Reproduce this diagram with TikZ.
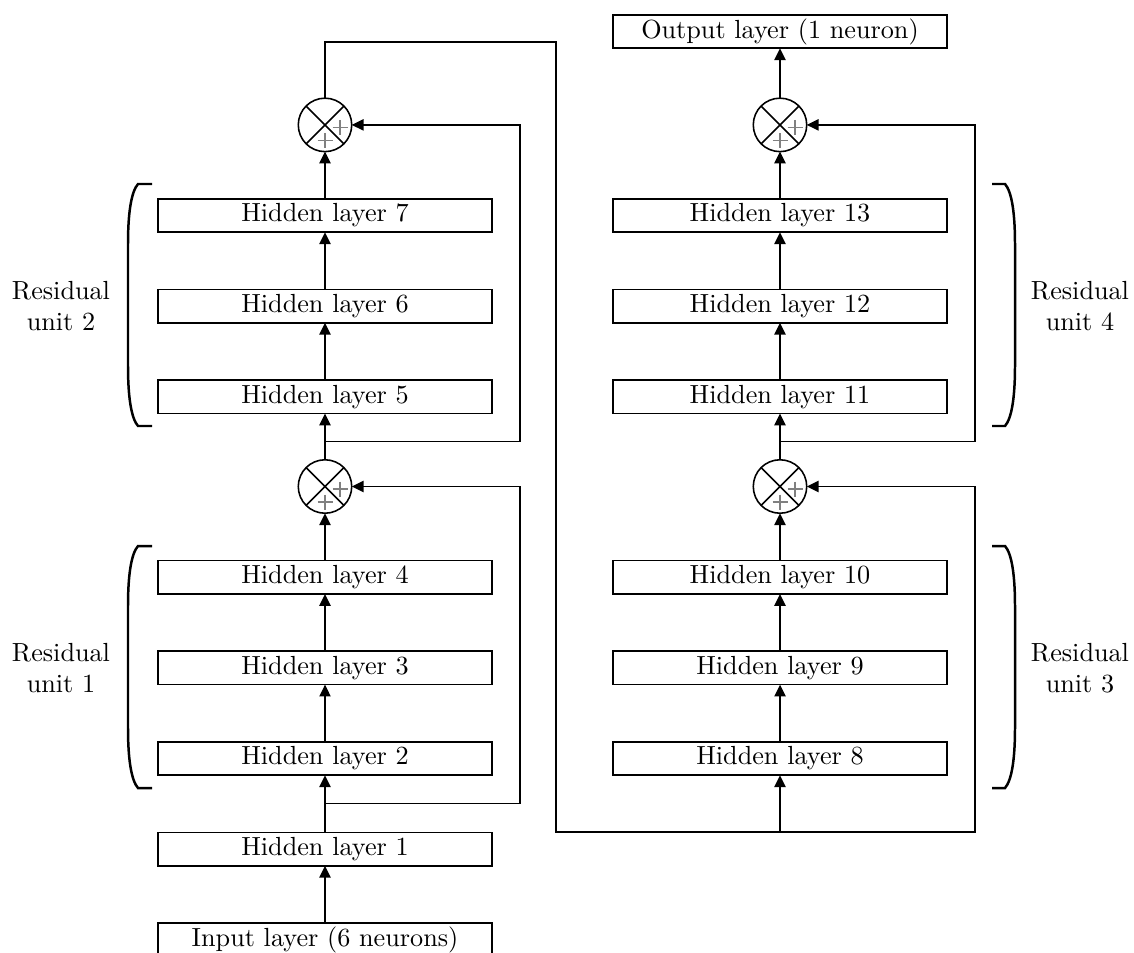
\documentclass[tikz,border=0pt]{standalone}
\usetikzlibrary{arrows.meta,calc}
\begin{document}
\begin{tikzpicture}[x=0.3817pt,y=-0.3817pt,line width=0.6pt,
  box/.style={draw,rectangle,minimum width=127.5pt,minimum height=12.8pt,inner sep=0pt,outer sep=0pt,line width=0.6pt},
  sumnode/.style={draw,circle,minimum size=20.4pt,inner sep=0pt,outer sep=0pt,line width=0.6pt},
  arr/.style={-{Triangle[length=4.5pt,width=4.3pt]}},
  brk/.style={line width=0.95pt},
  plussign/.style={draw=gray,line width=0.4pt},
  lab/.style={align=center,inner sep=0pt}]
\useasboundingbox (0,0) rectangle (1134,953);
% left column
\node[box] (in) at (325,939.7) {Input layer (6 neurons)};
\node[box] (h1) at (325,849.1) {Hidden layer 1};
\node[box] (h2) at (325,758.5) {Hidden layer 2};
\node[box] (h3) at (325,667.9) {Hidden layer 3};
\node[box] (h4) at (325,577.3) {Hidden layer 4};
\node[sumnode] (s1) at (325,486.5) {};
\node[box] (h5) at (325,396.7) {Hidden layer 5};
\node[box] (h6) at (325,306.1) {Hidden layer 6};
\node[box] (h7) at (325,215.5) {Hidden layer 7};
\node[sumnode] (s2) at (325,124.9) {};
% right column
\node[box] (h8) at (780,758.5) {Hidden layer 8};
\node[box] (h9) at (780,667.9) {Hidden layer 9};
\node[box] (h10) at (780,577.3) {Hidden layer 10};
\node[sumnode] (s3) at (780,486.5) {};
\node[box] (h11) at (780,396.7) {Hidden layer 11};
\node[box] (h12) at (780,306.1) {Hidden layer 12};
\node[box] (h13) at (780,215.5) {Hidden layer 13};
\node[sumnode] (s4) at (780,124.9) {};
\node[box] (out) at (780,31.5) {Output layer (1 neuron)};
% sum symbols
\foreach \s in {s1,s2,s3,s4}{
  \draw (\s.north west) -- (\s.south east) (\s.north east) -- (\s.south west);
  \path[plussign] (\s.center) ++(7.5,2.5) -- ++(15,0);
  \path[plussign] (\s.center) ++(15,-5) -- ++(0,15);
  \path[plussign] (\s.center) ++(-7.5,15.5) -- ++(15,0);
  \path[plussign] (\s.center) ++(0,8) -- ++(0,15);
}
% main arrows
\draw[arr] (in) -- (h1);
\draw[arr] (h1) -- (h2);
\draw[arr] (h2) -- (h3);
\draw[arr] (h3) -- (h4);
\draw[arr] (h4) -- (s1);
\draw[arr] (s1) -- (h5);
\draw[arr] (h5) -- (h6);
\draw[arr] (h6) -- (h7);
\draw[arr] (h7) -- (s2);
\draw[arr] (h8) -- (h9);
\draw[arr] (h9) -- (h10);
\draw[arr] (h10) -- (s3);
\draw[arr] (s3) -- (h11);
\draw[arr] (h11) -- (h12);
\draw[arr] (h12) -- (h13);
\draw[arr] (h13) -- (s4);
\draw[arr] (s4) -- (out);
% skip connections
\coordinate (b1) at (325,803.5);
\coordinate (f1) at (520,803.5);
\draw[arr] (b1) -- (f1) |- (s1);
\coordinate (b2) at (325,441.5);
\coordinate (f2) at (520,441.5);
\draw[arr] (b2) -- (f2) |- (s2);
\coordinate (c1) at (556,42);
\coordinate (c2) at (556,832);
\coordinate (b3) at (780,832);
\coordinate (c3) at (975,832);
\draw[arr] (s2) |- (c1) -- (c2) -- (c3) |- (s3);
\draw[arr] (b3) -- (h8);
\coordinate (b4) at (780,441.5);
\coordinate (f4) at (975,441.5);
\draw[arr] (b4) -- (f4) |- (s4);
% brackets
\draw[brk] (152,184) -- (138,184) .. controls (131,192) and (128,214) .. (128,244) -- (128,366) .. controls (128,396) and (131,418) .. (138,426) -- (152,426);
\draw[brk] (152,546) -- (138,546) .. controls (131,554) and (128,576) .. (128,606) -- (128,728) .. controls (128,758) and (131,780) .. (138,788) -- (152,788);
\draw[brk] (992,184) -- (1005,184) .. controls (1012,192) and (1015,214) .. (1015,244) -- (1015,366) .. controls (1015,396) and (1012,418) .. (1005,426) -- (992,426);
\draw[brk] (992,546) -- (1005,546) .. controls (1012,554) and (1015,576) .. (1015,606) -- (1015,728) .. controls (1015,758) and (1012,780) .. (1005,788) -- (992,788);
% labels
\node[lab] (l2) at (61,306) {Residual\\unit 2};
\node[lab] (l1) at (61,668) {Residual\\unit 1};
\node[lab] (l4) at (1080,306) {Residual\\unit 4};
\node[lab] (l3) at (1080,668) {Residual\\unit 3};
\end{tikzpicture}
\end{document}
